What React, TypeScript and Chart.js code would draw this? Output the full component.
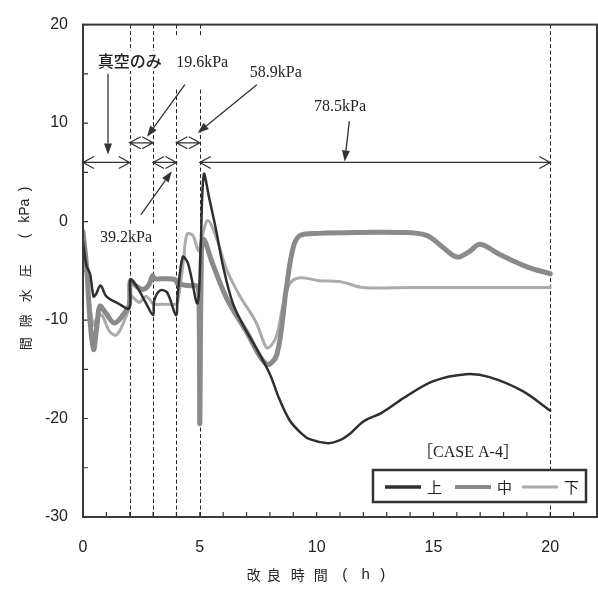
import React, { useEffect, useRef } from 'react';
import { Chart, registerables } from 'chart.js';

Chart.register(...registerables);

// 改良時間 (h) と 間隙水圧 (kPa) — 上・中・下 の三測点
const upperHours = [0, 0.15, 0.3, 0.45, 0.55, 0.75, 1.0, 1.5, 1.98, 2.03, 2.3, 2.7, 3.0, 3.05, 3.3, 3.6, 3.98, 4.05, 4.27, 4.5, 4.9, 5.03, 5.17, 5.4, 5.7, 6.0, 6.4, 6.85, 7.4, 8.0, 8.4, 8.85, 9.3, 9.7, 10.5, 11.0, 11.4, 12.0, 12.8, 13.8, 15.0, 16.4, 17.4, 18.8, 20.0];
const upperPressure = [-2, -4.5, -5.3, -7.6, -7.4, -6.5, -7.6, -8.3, -8.8, -5.9, -6.6, -8.3, -9.5, -8.0, -7.0, -7.2, -9.5, -7.5, -3.6, -4.3, -8.3, -3.0, 4.8, 2.4, -0.9, -4.6, -8.2, -10.5, -12.8, -15.5, -18.0, -20.2, -21.4, -22.1, -22.5, -22.2, -21.6, -20.3, -19.4, -17.8, -16.2, -15.5, -15.8, -17.2, -19.2];

const middleHours = [0, 0.15, 0.3, 0.45, 0.6, 0.72, 0.95, 1.35, 1.8, 1.98, 2.03, 2.25, 2.55, 2.8, 2.98, 3.05, 3.5, 3.95, 4.05, 4.5, 4.9, 4.97, 5.0, 5.06, 5.15, 5.55, 6.15, 7.0, 7.85, 8.3, 8.7, 9.0, 9.3, 10.1, 12.0, 13.5, 14.7, 15.4, 16.0, 16.5, 17.0, 17.8, 19.0, 20.0];
const middlePressure = [-1.0, -4.5, -10.0, -13.0, -10.5, -8.6, -9.2, -10.3, -9.2, -8.5, -6.0, -6.5, -6.9, -6.5, -5.5, -5.8, -5.8, -5.9, -6.3, -6.5, -6.6, -9.0, -20.5, -5.0, -1.8, -4.3, -7.8, -11.2, -14.5, -13.5, -6.8, -2.6, -1.4, -1.2, -1.1, -1.1, -1.4, -2.6, -3.6, -3.1, -2.3, -3.3, -4.6, -5.3];

const lowerHours = [0, 0.15, 0.3, 0.45, 0.6, 0.8, 1.15, 1.45, 1.9, 1.98, 2.03, 2.4, 2.7, 2.98, 3.05, 3.5, 3.95, 4.05, 4.3, 4.45, 4.7, 4.95, 5.1, 5.35, 5.7, 6.15, 6.7, 7.4, 7.85, 8.05, 8.3, 8.55, 8.85, 9.3, 10.1, 11.0, 12.0, 14.0, 20.0];
const lowerPressure = [-2.0, -5.0, -8.5, -10.5, -9.8, -9.5, -11.2, -11.5, -9.3, -8.6, -7.5, -8.2, -7.6, -8.3, -8.4, -8.4, -8.4, -8.2, -4.0, -1.3, -1.4, -3.0, -1.5, 0.1, -1.6, -4.9, -7.5, -10.2, -12.8, -12.6, -11.5, -8.6, -6.3, -5.7, -6.0, -6.1, -6.7, -6.7, -6.7];

const seriesLabels = ['上', '中', '下'];
const xTickValues = [0, 5, 10, 15, 20];
const yTickValues = [-30, -20, -10, 0, 10, 20];

// 載荷段階の境界 (h)
const stageBoundaries = [2, 3, 4, 5, 20];
const stageStart = [0, 2, 3, 4, 5];
const stageEnd = [2, 3, 4, 5, 20];
const stageLabels = ['真空のみ', '19.6kPa', '39.2kPa', '58.9kPa', '78.5kPa'];
const caseLabel = '［CASE A-4］';

// drawing styles
const seriesColors = ['#2f2f2f', '#8a8a8a', '#ababab'];
const seriesWidths = [2.5, 5, 3];

// span arrow heights and label placement, in axis units
const stageArrowLevel = [6, 8, 6, 8, 6];
const labelLayout = [
  { tx: 2.0, ty: 16.3, x0: 1.07, y0: 15.0, x1: 1.07, y1: 6.8, padX: 3, padY: 4, cjk: true },
  { tx: 5.1, ty: 16.1, x0: 4.36, y0: 13.9, x1: 2.74, y1: 8.6, padX: 6, padY: 20, cjk: false },
  { tx: 1.84, ty: -1.6, x0: 2.48, y0: 0.7, x1: 3.8, y1: 5.1, padX: 4, padY: 7, cjk: false },
  { tx: 8.25, ty: 15.1, x0: 7.44, y0: 13.9, x1: 4.91, y1: 9.0, padX: 3, padY: 4, cjk: false },
  { tx: 11.0, ty: 11.7, x0: 11.4, y0: 10.2, x1: 11.2, y1: 6.1, padX: 3, padY: 4, cjk: false },
];

const SANS = "'Liberation Sans', Arial, sans-serif";
const SERIF = "'Liberation Serif', 'Times New Roman', serif";
const CJK = "'Noto Sans CJK JP', 'Noto Sans', sans-serif";

const xTitleTokens: [string, number][] = [['改', -63], ['良', -43], ['時', -19], ['間', 4], ['(', 28], ['h', 49], [')', 66]];
const yTitleTokens: [string, number][] = [['間', -76], ['隙', -53], ['水', -28], ['圧', -3], ['(', 32], ['kPa', 57], [')', 79]];

function filledArrow(ctx: CanvasRenderingContext2D, x0: number, y0: number, x1: number, y1: number) {
  const ang = Math.atan2(y1 - y0, x1 - x0);
  const len = 11;
  const hw = 4;
  const bx = x1 - len * Math.cos(ang);
  const by = y1 - len * Math.sin(ang);
  ctx.beginPath();
  ctx.moveTo(x0, y0);
  ctx.lineTo(bx, by);
  ctx.stroke();
  ctx.beginPath();
  ctx.moveTo(x1, y1);
  ctx.lineTo(bx + hw * Math.sin(ang), by - hw * Math.cos(ang));
  ctx.lineTo(bx - hw * Math.sin(ang), by + hw * Math.cos(ang));
  ctx.closePath();
  ctx.fill();
}

function spanArrow(ctx: CanvasRenderingContext2D, xa: number, xb: number, y: number) {
  const len = 11;
  const hw = 6;
  ctx.beginPath();
  ctx.moveTo(xa, y);
  ctx.lineTo(xb, y);
  ctx.moveTo(xa + len, y - hw);
  ctx.lineTo(xa, y);
  ctx.lineTo(xa + len, y + hw);
  ctx.moveTo(xb - len, y - hw);
  ctx.lineTo(xb, y);
  ctx.lineTo(xb - len, y + hw);
  ctx.stroke();
}

const overlayPlugin = {
  id: 'overlay',
  beforeDatasetsDraw(chart: any) {
    const { ctx, chartArea: a, scales } = chart;
    const xs = scales.x;
    const ys = scales.y;
    ctx.save();
    // inner tick marks
    ctx.strokeStyle = '#333';
    ctx.lineWidth = 1.2;
    ctx.beginPath();
    for (let v = -30; v <= 20; v += 5) {
      const py = ys.getPixelForValue(v);
      ctx.moveTo(a.left, py);
      ctx.lineTo(a.left + 5, py);
    }
    for (let v = 0; v <= 22; v += 1) {
      const px = xs.getPixelForValue(v);
      ctx.moveTo(px, a.bottom);
      ctx.lineTo(px, a.bottom - 5);
    }
    ctx.stroke();
    // stage boundaries
    ctx.setLineDash([4, 2.5]);
    ctx.lineWidth = 1;
    ctx.strokeStyle = '#222';
    ctx.beginPath();
    stageBoundaries.forEach((b) => {
      const px = Math.round(xs.getPixelForValue(b)) + 0.5;
      ctx.moveTo(px, a.top);
      ctx.lineTo(px, a.bottom);
    });
    ctx.stroke();
    ctx.restore();
  },
  afterDatasetsDraw(chart: any) {
    const { ctx, chartArea: a, scales } = chart;
    const xs = scales.x;
    const ys = scales.y;
    ctx.save();
    ctx.strokeStyle = '#333';
    ctx.fillStyle = '#333';
    ctx.lineWidth = 1.3;

    // stage span arrows
    stageStart.forEach((s, i) => {
      spanArrow(ctx, xs.getPixelForValue(s), xs.getPixelForValue(stageEnd[i]), ys.getPixelForValue(stageArrowLevel[i]));
    });

    // stage labels with pointer arrows
    stageLabels.forEach((text, i) => {
      const L = labelLayout[i];
      ctx.font = L.cjk ? `500 16px ${CJK}` : `16px ${SERIF}`;
      const tw = ctx.measureText(text).width;
      const cx = xs.getPixelForValue(L.tx);
      const cy = ys.getPixelForValue(L.ty);
      ctx.fillStyle = '#fff';
      ctx.fillRect(cx - tw / 2 - L.padX, cy - L.padY - 6, tw + 2 * L.padX, 2 * L.padY + 12);
      ctx.fillStyle = '#222';
      ctx.textAlign = 'center';
      ctx.textBaseline = 'middle';
      ctx.fillText(text, cx, cy);
      ctx.fillStyle = '#333';
      filledArrow(ctx, xs.getPixelForValue(L.x0), ys.getPixelForValue(L.y0), xs.getPixelForValue(L.x1), ys.getPixelForValue(L.y1));
    });

    // case label
    ctx.font = `16px ${SERIF}, ${CJK}`;
    ctx.fillStyle = '#222';
    ctx.textAlign = 'center';
    ctx.textBaseline = 'middle';
    ctx.fillText(caseLabel, a.right - 129, a.bottom - 64);

    // legend box
    const lx = a.right - 224;
    const ly = a.bottom - 47;
    const lw = 213;
    const lh = 32;
    ctx.fillStyle = '#fff';
    ctx.fillRect(lx, ly, lw, lh);
    ctx.lineWidth = 2.5;
    ctx.strokeStyle = '#333';
    ctx.strokeRect(lx, ly, lw, lh);
    const midY = ly + lh / 2 + 1;
    const itemX = [lx + 12, lx + 82, lx + 149];
    seriesLabels.forEach((lab, i) => {
      ctx.strokeStyle = seriesColors[i];
      ctx.lineWidth = i === 0 ? 3.5 : i === 1 ? 4 : 3;
      ctx.beginPath();
      ctx.moveTo(itemX[i], midY);
      ctx.lineTo(itemX[i] + 36, midY);
      ctx.stroke();
      ctx.fillStyle = '#222';
      ctx.font = `15px ${CJK}`;
      ctx.textAlign = 'left';
      ctx.textBaseline = 'middle';
      ctx.fillText(lab, itemX[i] + 42, midY);
    });

    // plot frame
    ctx.lineWidth = 2;
    ctx.strokeStyle = '#3a3a3a';
    ctx.strokeRect(a.left, a.top, a.width, a.height);
    ctx.restore();
  },
  afterDraw(chart: any) {
    const { ctx, chartArea: a, scales } = chart;
    ctx.save();
    ctx.fillStyle = '#222';
    ctx.textAlign = 'center';
    ctx.textBaseline = 'middle';
    // x axis title
    const xc = scales.x.getPixelForValue(10);
    const xy = a.bottom + 58;
    xTitleTokens.forEach(([t, off]) => {
      ctx.font = /[a-z()]/.test(t) ? `15px ${SANS}` : `14px ${CJK}`;
      ctx.fillText(t, xc + off, xy);
    });
    // y axis title (rotated)
    ctx.translate(25, (a.top + a.bottom) / 2 - 3);
    ctx.rotate(-Math.PI / 2);
    yTitleTokens.forEach(([t, off]) => {
      ctx.font = /[a-zA-Z()]/.test(t) ? `14px ${SANS}` : `13px ${CJK}`;
      ctx.fillText(t, off, 0);
    });
    ctx.restore();
  },
};

export default function App() {
  const canvasRef = useRef<HTMLCanvasElement | null>(null);

  useEffect(() => {
    const canvas = canvasRef.current;
    if (!canvas) return;
    const toPoints = (xs: number[], ys: number[]) => xs.map((x, i) => ({ x, y: ys[i] }));
    const chart = new Chart(canvas, {
      type: 'line',
      data: {
        datasets: [
          { label: seriesLabels[0], data: toPoints(upperHours, upperPressure) },
          { label: seriesLabels[1], data: toPoints(middleHours, middlePressure) },
          { label: seriesLabels[2], data: toPoints(lowerHours, lowerPressure) },
        ].map((d, i) => ({
          ...d,
          borderColor: seriesColors[i],
          borderWidth: seriesWidths[i],
          pointRadius: 0,
          tension: 0.35,
          fill: false,
          borderJoinStyle: 'round' as const,
          borderCapStyle: 'round' as const,
        })),
      },
      options: {
        animation: false,
        responsive: false,
        devicePixelRatio: 1,
        events: [],
        layout: { padding: { top: 13, right: 1, left: 0, bottom: 0 } },
        plugins: { legend: { display: false }, tooltip: { enabled: false } },
        scales: {
          x: {
            type: 'linear',
            min: 0,
            max: 22,
            grid: { display: false, drawTicks: false },
            border: { display: false },
            ticks: { font: { family: SANS, size: 16 }, color: '#222', padding: 21, maxRotation: 0 },
            afterBuildTicks: (s: any) => {
              s.ticks = xTickValues.map((v) => ({ value: v }));
            },
            afterFit: (s: any) => {
              s.height = 72;
            },
          },
          y: {
            type: 'linear',
            min: -30,
            max: 20,
            grid: { display: false, drawTicks: false },
            border: { display: false },
            ticks: { font: { family: SANS, size: 16 }, color: '#222', padding: 15 },
            afterBuildTicks: (s: any) => {
              s.ticks = yTickValues.map((v) => ({ value: v }));
            },
            afterFit: (s: any) => {
              s.width = 83;
            },
          },
        },
      },
      plugins: [overlayPlugin],
    });
    return () => chart.destroy();
  }, []);

  return (
    <div style={{ position: 'absolute', left: 0, top: 0, width: 598, height: 589, background: '#fff' }}>
      <canvas ref={canvasRef} width={598} height={589} style={{ display: 'block', width: 598, height: 589 }} />
    </div>
  );
}
